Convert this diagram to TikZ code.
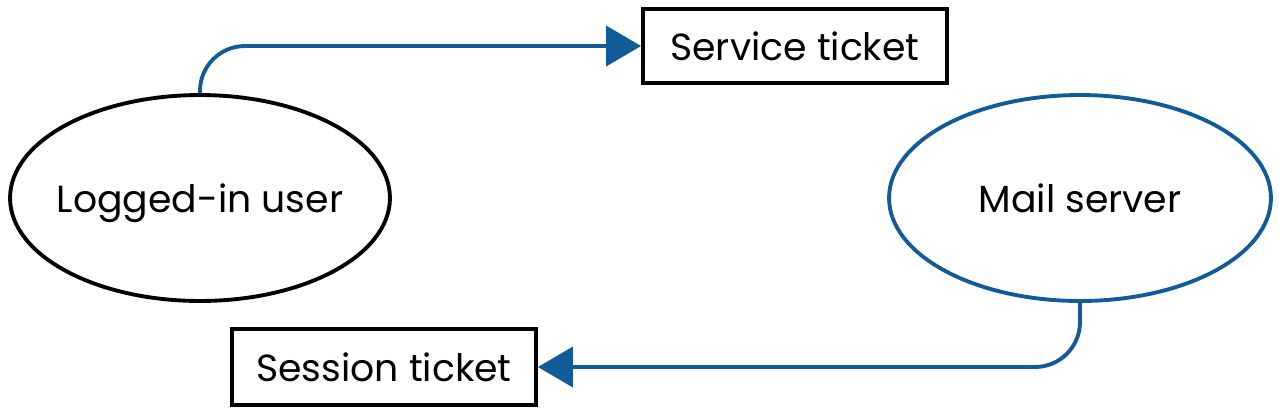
\documentclass[tikz,border=0pt]{standalone}
\usepackage{fontspec}
\setmainfont{Poppins}
\usepackage{tikz}
\usetikzlibrary{shapes,shapes.geometric,positioning,arrows.meta}
\definecolor{flowblue}{RGB}{17,91,153}
\tikzstyle{every node}=[font=\fontsize{21.5}{26}\selectfont]
\tikzstyle{every label}=[text depth=0pt]
\tikzstyle{party}=[ellipse,draw=black,line width=2.2pt,inner sep=0pt,minimum width=7.6cm,minimum height=4.12cm]
\tikzstyle{ticket}=[rectangle,draw=black,line width=2.2pt,inner sep=0pt,minimum width=6.08cm,minimum height=1.5cm]
\tikzstyle{flow}=[draw=flowblue,line width=2.2pt,rounded corners=0.9cm,-{Triangle[length=0.7cm,width=0.8cm]}]

\begin{document}
\begin{tikzpicture}[x=0.02cm,y=-0.02cm]
  \useasboundingbox (0,0) rectangle (1279,414);
  \node [party,label={center:Logged-in user}] (user) at (200,198) {};
  \node [party,draw=flowblue,minimum width=7.64cm,label={center:Mail server}] (mail) at (1080,198) {};
  \node [ticket,minimum height=1.48cm] (service) at (795,46) {Service ticket};
  \node [ticket,minimum height=1.52cm] (session) at (384,367) {Session ticket};
  \draw [flow] (user.north) |- (service.west);
  \draw [flow] (mail.south) |- (session.east);
\end{tikzpicture}
\end{document}
